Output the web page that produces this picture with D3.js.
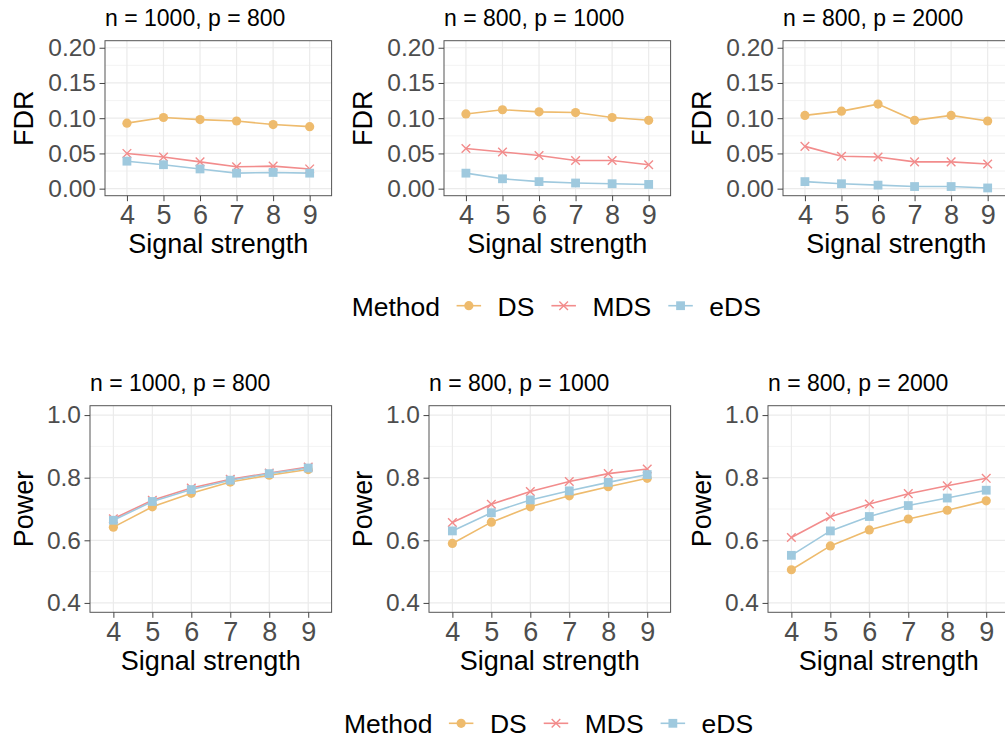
<!DOCTYPE html>
<html><head><meta charset="utf-8">
<script src="https://cdn.jsdelivr.net/npm/d3@7"></script>
<style>body{margin:0;background:#fff}svg{display:block;font-family:"Liberation Sans",Arial,Helvetica,sans-serif}</style>
</head><body>
<svg id="c" width="1005" height="740"></svg>
<script>
// ---------- data ----------
const signal = ["4","5","6","7","8","9"];
const panelTitles = ["n = 1000, p = 800", "n = 800, p = 1000", "n = 800, p = 2000"];
const methods = ["DS", "MDS", "eDS"];
const methodColors = ["#EEBB6D", "#F28C8C", "#9FC9DE"];
const fdrTicks = [0, 0.05, 0.10, 0.15, 0.20];
const powerTicks = [0.4, 0.6, 0.8, 1.0];

// FDR
const fdrDS_1  = [0.093, 0.101, 0.098, 0.096, 0.091, 0.088];
const fdrMDS_1 = [0.050, 0.045, 0.038, 0.031, 0.032, 0.028];
const fdrEDS_1 = [0.039, 0.034, 0.028, 0.022, 0.023, 0.022];
const fdrDS_2  = [0.106, 0.112, 0.109, 0.108, 0.101, 0.097];
const fdrMDS_2 = [0.057, 0.052, 0.047, 0.040, 0.040, 0.034];
const fdrEDS_2 = [0.022, 0.014, 0.010, 0.008, 0.007, 0.006];
const fdrDS_3  = [0.104, 0.110, 0.120, 0.097, 0.104, 0.096];
const fdrMDS_3 = [0.060, 0.046, 0.045, 0.038, 0.038, 0.035];
const fdrEDS_3 = [0.010, 0.007, 0.005, 0.003, 0.003, 0.001];
// Power
const powDS_1  = [0.642, 0.707, 0.750, 0.786, 0.808, 0.826];
const powMDS_1 = [0.669, 0.728, 0.767, 0.795, 0.815, 0.834];
const powEDS_1 = [0.664, 0.724, 0.762, 0.792, 0.813, 0.831];
const powDS_2  = [0.590, 0.658, 0.707, 0.742, 0.771, 0.798];
const powMDS_2 = [0.657, 0.715, 0.756, 0.788, 0.813, 0.828];
const powEDS_2 = [0.630, 0.688, 0.729, 0.758, 0.785, 0.810];
const powDS_3  = [0.506, 0.582, 0.633, 0.668, 0.696, 0.726];
const powMDS_3 = [0.609, 0.675, 0.716, 0.749, 0.774, 0.798];
const powEDS_3 = [0.552, 0.630, 0.676, 0.711, 0.735, 0.760];

const fdrSeries = [[fdrDS_1, fdrMDS_1, fdrEDS_1],[fdrDS_2, fdrMDS_2, fdrEDS_2],[fdrDS_3, fdrMDS_3, fdrEDS_3]];
const powSeries = [[powDS_1, powMDS_1, powEDS_1],[powDS_2, powMDS_2, powEDS_2],[powDS_3, powMDS_3, powEDS_3]];

// ---------- layout ----------
const svg = d3.select("#c");
const blockStep = 339;
const rows = [
  {label: "FDR", series: fdrSeries, domain: [-0.01, 0.21], ticks: fdrTicks, minor: [0.025,0.075,0.125,0.175], fmt: d3.format(".2f"),
   panelLeft: 105, panelW: 226.6, top: 40.7, bottom: 195.7, legendX: 351.7, legendY: 315.7},
  {label: "Power", series: powSeries, domain: [0.37, 1.03], ticks: powerTicks, minor: [0.5,0.7,0.9], fmt: d3.format(".1f"),
   panelLeft: 90, panelW: 241.6, top: 405.7, bottom: 612.3, legendX: 344, legendY: 733.3}
];

const gridCol = "#EBEBEB", borderCol = "#555", tickCol = "#444", tickText = "#4D4D4D";

function marker(g, m, x, y, col) {
  if (m === 0) g.append("circle").attr("cx", x).attr("cy", y).attr("r", 4.6).attr("fill", col);
  else if (m === 1) {
    const s = 4.3;
    g.append("path").attr("d", `M${x-s},${y-s}L${x+s},${y+s}M${x-s},${y+s}L${x+s},${y-s}`)
      .attr("stroke", col).attr("stroke-width", 1.4).attr("fill", "none");
  } else g.append("rect").attr("x", x-4.4).attr("y", y-4.4).attr("width", 8.8).attr("height", 8.8).attr("fill", col);
}

rows.forEach(row => {
  for (let p = 0; p < 3; p++) {
    const L = row.panelLeft + p*blockStep, R = L + row.panelW;
    const x = d3.scalePoint().domain(signal).range([L, R]).padding(0.6);
    const y = d3.scaleLinear().domain(row.domain).range([row.bottom, row.top]);
    const g = svg.append("g");
    // grid
    g.selectAll(".mn").data(row.minor).enter().append("line")
      .attr("x1", L).attr("x2", R).attr("y1", d => y(d)).attr("y2", d => y(d))
      .attr("stroke", gridCol).attr("stroke-width", 0.6);
    g.selectAll(".mjy").data(row.ticks).enter().append("line")
      .attr("x1", L).attr("x2", R).attr("y1", d => y(d)).attr("y2", d => y(d))
      .attr("stroke", gridCol).attr("stroke-width", 1.2);
    g.selectAll(".mjx").data(signal).enter().append("line")
      .attr("y1", row.top).attr("y2", row.bottom).attr("x1", d => x(d)).attr("x2", d => x(d))
      .attr("stroke", gridCol).attr("stroke-width", 1.2);
    // lines
    const line = d3.line().x((d, i) => x(signal[i])).y(d => y(d));
    row.series[p].forEach((vals, m) => {
      g.append("path").attr("d", line(vals)).attr("fill", "none")
        .attr("stroke", methodColors[m]).attr("stroke-width", 1.6);
    });
    row.series[p].forEach((vals, m) => {
      vals.forEach((v, i) => marker(g, m, x(signal[i]), y(v), methodColors[m]));
    });
    // border
    g.append("rect").attr("x", L).attr("y", row.top).attr("width", R - L).attr("height", row.bottom - row.top)
      .attr("fill", "none").attr("stroke", borderCol).attr("stroke-width", 1);
    // y axis
    const ya = g.append("g").attr("transform", `translate(${L},0)`)
      .call(d3.axisLeft(y).tickValues(row.ticks).tickFormat(row.fmt).tickSize(5.5).tickPadding(3.5));
    ya.select(".domain").remove();
    ya.selectAll("line").attr("stroke", tickCol);
    ya.selectAll("text").attr("font-size", 24.5).attr("fill", tickText).attr("font-family", null);
    // x axis
    const xa = g.append("g").attr("transform", `translate(0,${row.bottom})`)
      .call(d3.axisBottom(x).tickSize(5.5).tickPadding(3));
    xa.select(".domain").remove();
    xa.selectAll("line").attr("stroke", tickCol);
    xa.selectAll("text").attr("font-size", 27).attr("fill", tickText).attr("font-family", null)
      .attr("dy", null).attr("y", 28.5);
    // titles
    g.append("text").attr("x", L).attr("y", row.top - 15).attr("font-size", 23).attr("fill", "#000").text(panelTitles[p]);
    g.append("text").attr("x", (L + R)/2).attr("y", row.bottom + 57.5).attr("text-anchor", "middle")
      .attr("font-size", 27).attr("fill", "#000").text("Signal strength");
    g.append("text").attr("transform", `translate(${p*blockStep + 32.5},${(row.top + row.bottom)/2}) rotate(-90)`)
      .attr("text-anchor", "middle").attr("font-size", 27).attr("fill", "#000").text(row.label);
  }
  // legend
  const lg = svg.append("g");
  let cx = row.legendX;
  const t0 = lg.append("text").attr("x", cx).attr("y", row.legendY).attr("font-size", 26.5).text("Method");
  cx += t0.node().getComputedTextLength() + 16.5;
  const keyY = row.legendY - 10;
  methods.forEach((m, i) => {
    lg.append("line").attr("x1", cx).attr("x2", cx + 24.5).attr("y1", keyY).attr("y2", keyY)
      .attr("stroke", methodColors[i]).attr("stroke-width", 1.6);
    marker(lg, i, cx + 12.25, keyY, methodColors[i]);
    cx += 24.5 + 16.5;
    const t = lg.append("text").attr("x", cx).attr("y", row.legendY).attr("font-size", 26.5).text(m);
    cx += t.node().getComputedTextLength() + 17;
  });
});
</script>
</body></html>
